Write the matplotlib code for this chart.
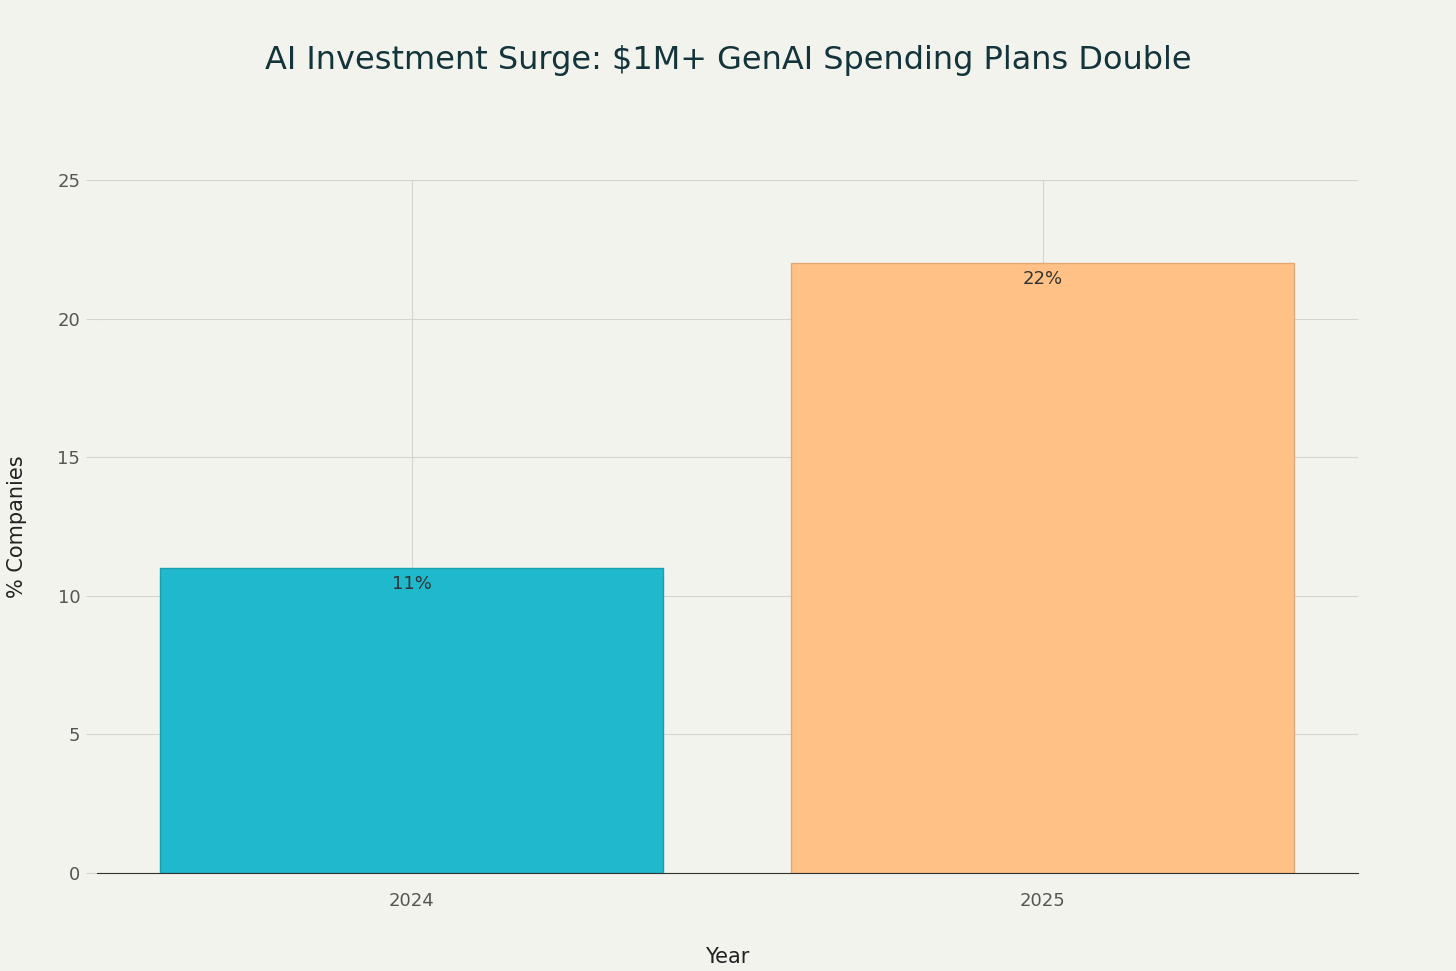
import matplotlib.pyplot as plt

years = ["2024", "2025"]
values = [11, 22]
labels = ["11%", "22%"]
colors = ["#1FB8CD", "#FFC185"]
edges = ["#1a9fb0", "#e0aa78"]
yticks = [0, 5, 10, 15, 20, 25]

bg = "#F3F3EE"
fig = plt.figure(figsize=(14.56, 9.71), dpi=100, facecolor=bg)
ax = fig.add_axes([0.0666, 0.1009, 0.866, 0.7137], facecolor=bg)
x = list(range(len(years)))
ax.bar(x, values, width=0.797, color=colors, edgecolor=edges, linewidth=1, zorder=2)
for xi, v, l in zip(x, values, labels):
    ax.text(xi, v - 0.25, l, ha="center", va="top", fontsize=13, color="#333333", zorder=3)
ax.set_xlim(-0.499, 1.499)
ax.set_ylim(0, 25)
ax.set_yticks(yticks)
ax.set_xticks(x)
ax.set_xticklabels(years)
ax.grid(True, color="#d4d4d0", linewidth=0.8, zorder=0)
for s in ["top", "right", "left"]:
    ax.spines[s].set_visible(False)
ax.spines["bottom"].set_color("#333333")
ax.tick_params(axis="y", length=8, color="#d4d4d0", labelsize=13, labelcolor="#555555", pad=4)
ax.tick_params(axis="x", length=0, labelsize=13, labelcolor="#555555", pad=14)
ax.set_xlabel("Year", fontsize=15, color="#222222", labelpad=26)
ax.set_ylabel("% Companies", fontsize=15, color="#222222", labelpad=22)
fig.text(0.5, 0.938, "AI Investment Surge: $1M+ GenAI Spending Plans Double",
         ha="center", va="center", fontsize=23, color="#13343B")
fig.savefig("out.png", dpi=100, facecolor=bg)
